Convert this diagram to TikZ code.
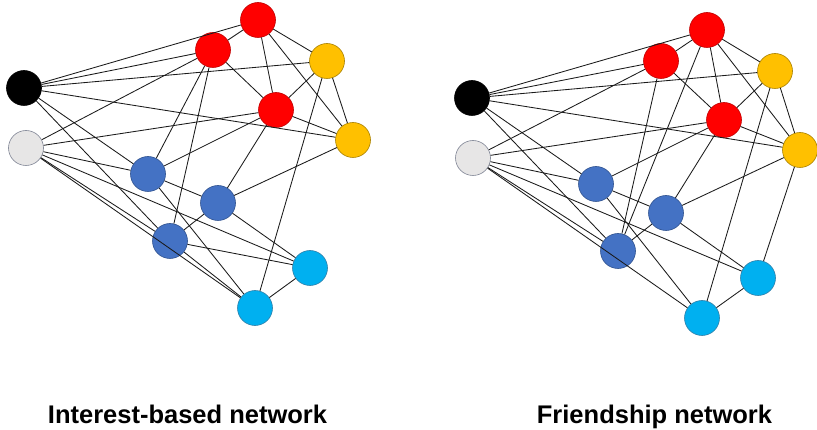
\documentclass[tikz,border=0pt]{standalone}
\usepackage{fontspec}
\setmainfont{Liberation Sans}
\definecolor{nred}{HTML}{FF0000}
\definecolor{nredb}{HTML}{C00000}
\definecolor{nyel}{HTML}{FFC000}
\definecolor{nyelb}{HTML}{A88000}
\definecolor{nblue}{HTML}{4472C4}
\definecolor{nblueb}{HTML}{2F528F}
\definecolor{ncyan}{HTML}{00B0F0}
\definecolor{ncyanb}{HTML}{2F7FA8}
\definecolor{ngray}{HTML}{E7E6E6}
\definecolor{ngrayb}{HTML}{7F8494}
\definecolor{edgecol}{HTML}{1A1A1A}
\begin{document}
\begin{tikzpicture}[x=1pt,y=-1pt,
  nd/.style={circle,minimum size=35pt,inner sep=0pt,line width=0.6pt},
  ndk/.style={nd,fill=black,draw=black},
  ndg/.style={nd,fill=ngray,draw=ngrayb},
  ndr/.style={nd,fill=nred,draw=nredb},
  ndy/.style={nd,fill=nyel,draw=nyelb},
  ndb/.style={nd,fill=nblue,draw=nblueb},
  ndc/.style={nd,fill=ncyan,draw=ncyanb},
  ed/.style={draw=edgecol,line width=0.85pt},
  lbl/.style={font=\bfseries\fontsize{25.5}{28}\selectfont,anchor=base,inner sep=0pt}]
\useasboundingbox (0,0) rectangle (817,430);
\clip (0,0) rectangle (817,430);
% ---------- left network ----------
\node[ndk] (LK)  at (24,88) {};
\node[ndg] (LG)  at (26,148) {};
\node[ndr] (LR1) at (258,20) {};
\node[ndr] (LR2) at (213,50) {};
\node[ndr] (LR3) at (276,110) {};
\node[ndy] (LY1) at (327,61) {};
\node[ndy] (LY2) at (353,140) {};
\node[ndb] (LB1) at (148,174) {};
\node[ndb] (LB2) at (218,203) {};
\node[ndb] (LB3) at (170,241) {};
\node[ndc] (LC1) at (310,268) {};
\node[ndc] (LC2) at (255,308) {};
\foreach \a/\b in {LK/LR1,LK/LR2,LK/LY1,LK/LY2,LK/LB1,LK/LB3,
  LG/LR2,LG/LR3,LG/LB1,LG/LB3,LG/LC1,LG/LC2,
  LR1/LR2,LR1/LY1,LR1/LR3,LR1/LY2,LR2/LR3,LR2/LB1,LR2/LB3,
  LR3/LY1,LR3/LY2,LR3/LB1,LR3/LB2,LY1/LY2,LY1/LC2,LY2/LB2,
  LB1/LB2,LB1/LC2,LB2/LB3,LB2/LC1,LB3/LC1,LB3/LC2,LC1/LC2}
  \draw[ed] (\a) -- (\b);
% ---------- right network ----------
\node[ndk] (RK)  at (472,98) {};
\node[ndg] (RG)  at (473,158) {};
\node[ndr] (RR1) at (707,30) {};
\node[ndr] (RR2) at (661,61) {};
\node[ndr] (RR3) at (724,120) {};
\node[ndy] (RY1) at (775,71) {};
\node[ndy] (RY2) at (800,150) {};
\node[ndb] (RB1) at (596,184) {};
\node[ndb] (RB2) at (666,213) {};
\node[ndb] (RB3) at (618,251) {};
\node[ndc] (RC1) at (758,278) {};
\node[ndc] (RC2) at (702,318) {};
\foreach \a/\b in {RK/RR1,RK/RR2,RK/RY1,RK/RY2,RK/RB1,RK/RB3,
  RG/RR2,RG/RR3,RG/RB1,RG/RB3,RG/RC1,RG/RC2,
  RR1/RR2,RR1/RY1,RR1/RR3,RR1/RY2,RR1/RB3,RR2/RR3,RR2/RB3,
  RR3/RY1,RR3/RY2,RR3/RB1,RR3/RB2,RY1/RY2,RY1/RC2,RY2/RB2,RY2/RC1,
  RB1/RB2,RB1/RC2,RB2/RB3,RB2/RC1,RC1/RC2}
  \draw[ed] (\a) -- (\b);
% ---------- titles ----------
\node[lbl] (tl) at (187.5,423) {Interest-based network};
\node[lbl] (tr) at (654.5,423) {Friendship network};
\end{tikzpicture}
\end{document}
